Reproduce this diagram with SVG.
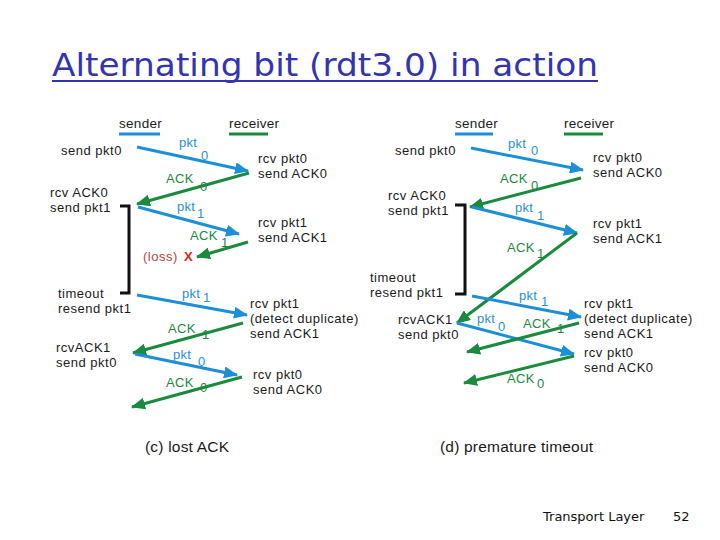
<svg xmlns="http://www.w3.org/2000/svg" width="720" height="540" viewBox="0 0 720 540">
<style>
text{font-family:"Liberation Sans",Arial,sans-serif;font-size:13px;letter-spacing:0.5px;fill:#1a1a1a}
.hd{font-size:13.5px;letter-spacing:0.3px}
.pk{fill:#2a8fd6;font-size:13px;letter-spacing:0.3px}
.ak{fill:#20893f;font-size:13px;letter-spacing:0.3px}
.cap{font-size:15.5px;letter-spacing:0.2px}
.ls{fill:#b8453c}
.x{fill:#e02222;font-weight:bold}
.b{stroke:#1b8fd8;stroke-width:3;fill:none;marker-end:url(#ab)}
.g{stroke:#1a8a3c;stroke-width:3;fill:none;marker-end:url(#ag)}
.br{stroke:#111;stroke-width:3;fill:none}
.ft{font-family:"DejaVu Sans",sans-serif;font-size:13px;letter-spacing:0;fill:#111}
</style>
<defs>
<marker id="ab" markerUnits="userSpaceOnUse" markerWidth="14" markerHeight="12" refX="13" refY="6" orient="auto"><path d="M0,0 L14,6 L0,12 z" fill="#1b8fd8"/></marker>
<marker id="ag" markerUnits="userSpaceOnUse" markerWidth="14" markerHeight="12" refX="13" refY="6" orient="auto"><path d="M0,0 L14,6 L0,12 z" fill="#1a8a3c"/></marker>
</defs>
<rect width="720" height="540" fill="#fff"/>
<g id="title">
<text x="52" y="76" style="font-family:'DejaVu Sans',sans-serif;font-size:32px;letter-spacing:0;fill:#3434b0" textLength="546" lengthAdjust="spacingAndGlyphs">Alternating bit (rdt3.0) in action</text>
<line x1="52" y1="81" x2="598" y2="81" stroke="#3434b0" stroke-width="2"/>
</g>
<g id="connectors">
<path class="b" d="M137,147 L248,171"/>
<path class="g" d="M249,173 L137,204"/>
<path class="b" d="M138,207 L239,234"/>
<path class="g" d="M248,242 L197,257"/>
<path class="b" d="M137,295 L247,315"/>
<path class="g" d="M243,323 L133,353"/>
<path class="b" d="M135,354 L237,375"/>
<path class="g" d="M242,377 L132,407"/>
<path class="br" d="M120,206 H129 V293 H120"/>
<path class="b" d="M471,148 L583,170"/>
<path class="g" d="M581,178 L470,207"/>
<path class="b" d="M472,207 L577,233"/>
<path class="g" d="M577,233 L457,323"/>
<path class="b" d="M472,296 L581,317"/>
<path class="b" d="M457,323 L574,354"/>
<path class="g" d="M579,323 L467,352"/>
<path class="g" d="M574,356 L464,383"/>
<path class="br" d="M455,205 H465 V294 H455"/>
</g>
<g id="c-headers">
<text class="hd" x="119" y="128">sender</text>
<line x1="119" y1="134" x2="160" y2="134" stroke="#1b8fd8" stroke-width="3"/>
<text class="hd" x="229" y="128">receiver</text>
<line x1="229" y1="134" x2="268" y2="134" stroke="#1a8a3c" stroke-width="3"/>
</g>
<g id="c-sender">
<text x="61" y="155">send pkt0</text>
<text x="50" y="197">rcv ACK0<tspan x="50" y="212">send pkt1</tspan></text>
<text x="58" y="298">timeout<tspan x="58" y="313">resend pkt1</tspan></text>
<text x="56" y="352">rcvACK1<tspan x="56" y="367">send pkt0</tspan></text>
</g>
<g id="c-receiver">
<text x="258" y="163">rcv pkt0<tspan x="258" y="178">send ACK0</tspan></text>
<text x="258" y="227">rcv pkt1<tspan x="258" y="242">send ACK1</tspan></text>
<text x="250" y="308">rcv pkt1<tspan x="250" y="323">(detect duplicate)</tspan><tspan x="250" y="338">send ACK1</tspan></text>
<text x="253" y="379">rcv pkt0<tspan x="253" y="394">send ACK0</tspan></text>
</g>
<g id="c-labels">
<text class="pk" x="179" y="147">pkt</text><text class="pk" x="201" y="160">0</text>
<text class="ak" x="166" y="183">ACK</text><text class="ak" x="200" y="191">0</text>
<text class="pk" x="177" y="211">pkt</text><text class="pk" x="197" y="218">1</text>
<text class="ak" x="190" y="240">ACK</text><text class="ak" x="221" y="247">1</text>
<text class="ls" x="143" y="261">(loss)</text><text class="x" x="184" y="261">X</text>
<text class="pk" x="182" y="298">pkt</text><text class="pk" x="203" y="302">1</text>
<text class="ak" x="168" y="333">ACK</text><text class="ak" x="202" y="339">1</text>
<text class="pk" x="173" y="359">pkt</text><text class="pk" x="198" y="366">0</text>
<text class="ak" x="166" y="387">ACK</text><text class="ak" x="200" y="392">0</text>
<text class="cap" x="145" y="452">(c) lost ACK</text>
</g>
<g id="d-headers">
<text class="hd" x="455" y="128">sender</text>
<line x1="455" y1="134" x2="493" y2="134" stroke="#1b8fd8" stroke-width="3"/>
<text class="hd" x="564" y="128">receiver</text>
<line x1="564" y1="134" x2="603" y2="134" stroke="#1a8a3c" stroke-width="3"/>
</g>
<g id="d-sender">
<text x="395" y="155">send pkt0</text>
<text x="388" y="200">rcv ACK0<tspan x="388" y="215">send pkt1</tspan></text>
<text x="370" y="282">timeout<tspan x="370" y="297">resend pkt1</tspan></text>
<text x="398" y="324">rcvACK1<tspan x="398" y="339">send pkt0</tspan></text>
</g>
<g id="d-receiver">
<text x="593" y="162">rcv pkt0<tspan x="593" y="177">send ACK0</tspan></text>
<text x="593" y="228">rcv pkt1<tspan x="593" y="243">send ACK1</tspan></text>
<text x="584" y="308">rcv pkt1<tspan x="584" y="323">(detect duplicate)</tspan><tspan x="584" y="338">send ACK1</tspan></text>
<text x="584" y="357">rcv pkt0<tspan x="584" y="372">send ACK0</tspan></text>
</g>
<g id="d-labels">
<text class="pk" x="508" y="148">pkt</text><text class="pk" x="531" y="155">0</text>
<text class="ak" x="500" y="183">ACK</text><text class="ak" x="531" y="190">0</text>
<text class="pk" x="515" y="212">pkt</text><text class="pk" x="537" y="220">1</text>
<text class="ak" x="507" y="252">ACK</text><text class="ak" x="537" y="258">1</text>
<text class="pk" x="519" y="300">pkt</text><text class="pk" x="541" y="306">1</text>
<text class="pk" x="477" y="323">pkt</text><text class="pk" x="498" y="331">0</text>
<text class="ak" x="523" y="328">ACK</text><text class="ak" x="557" y="333">1</text>
<text class="ak" x="507" y="383">ACK</text><text class="ak" x="537" y="388">0</text>
<text class="cap" x="440" y="452">(d) premature timeout</text>
</g>
<g id="footer">
<text class="ft" x="543" y="521">Transport Layer</text>
<text class="ft" x="673" y="521">52</text>
</g>
</svg>
